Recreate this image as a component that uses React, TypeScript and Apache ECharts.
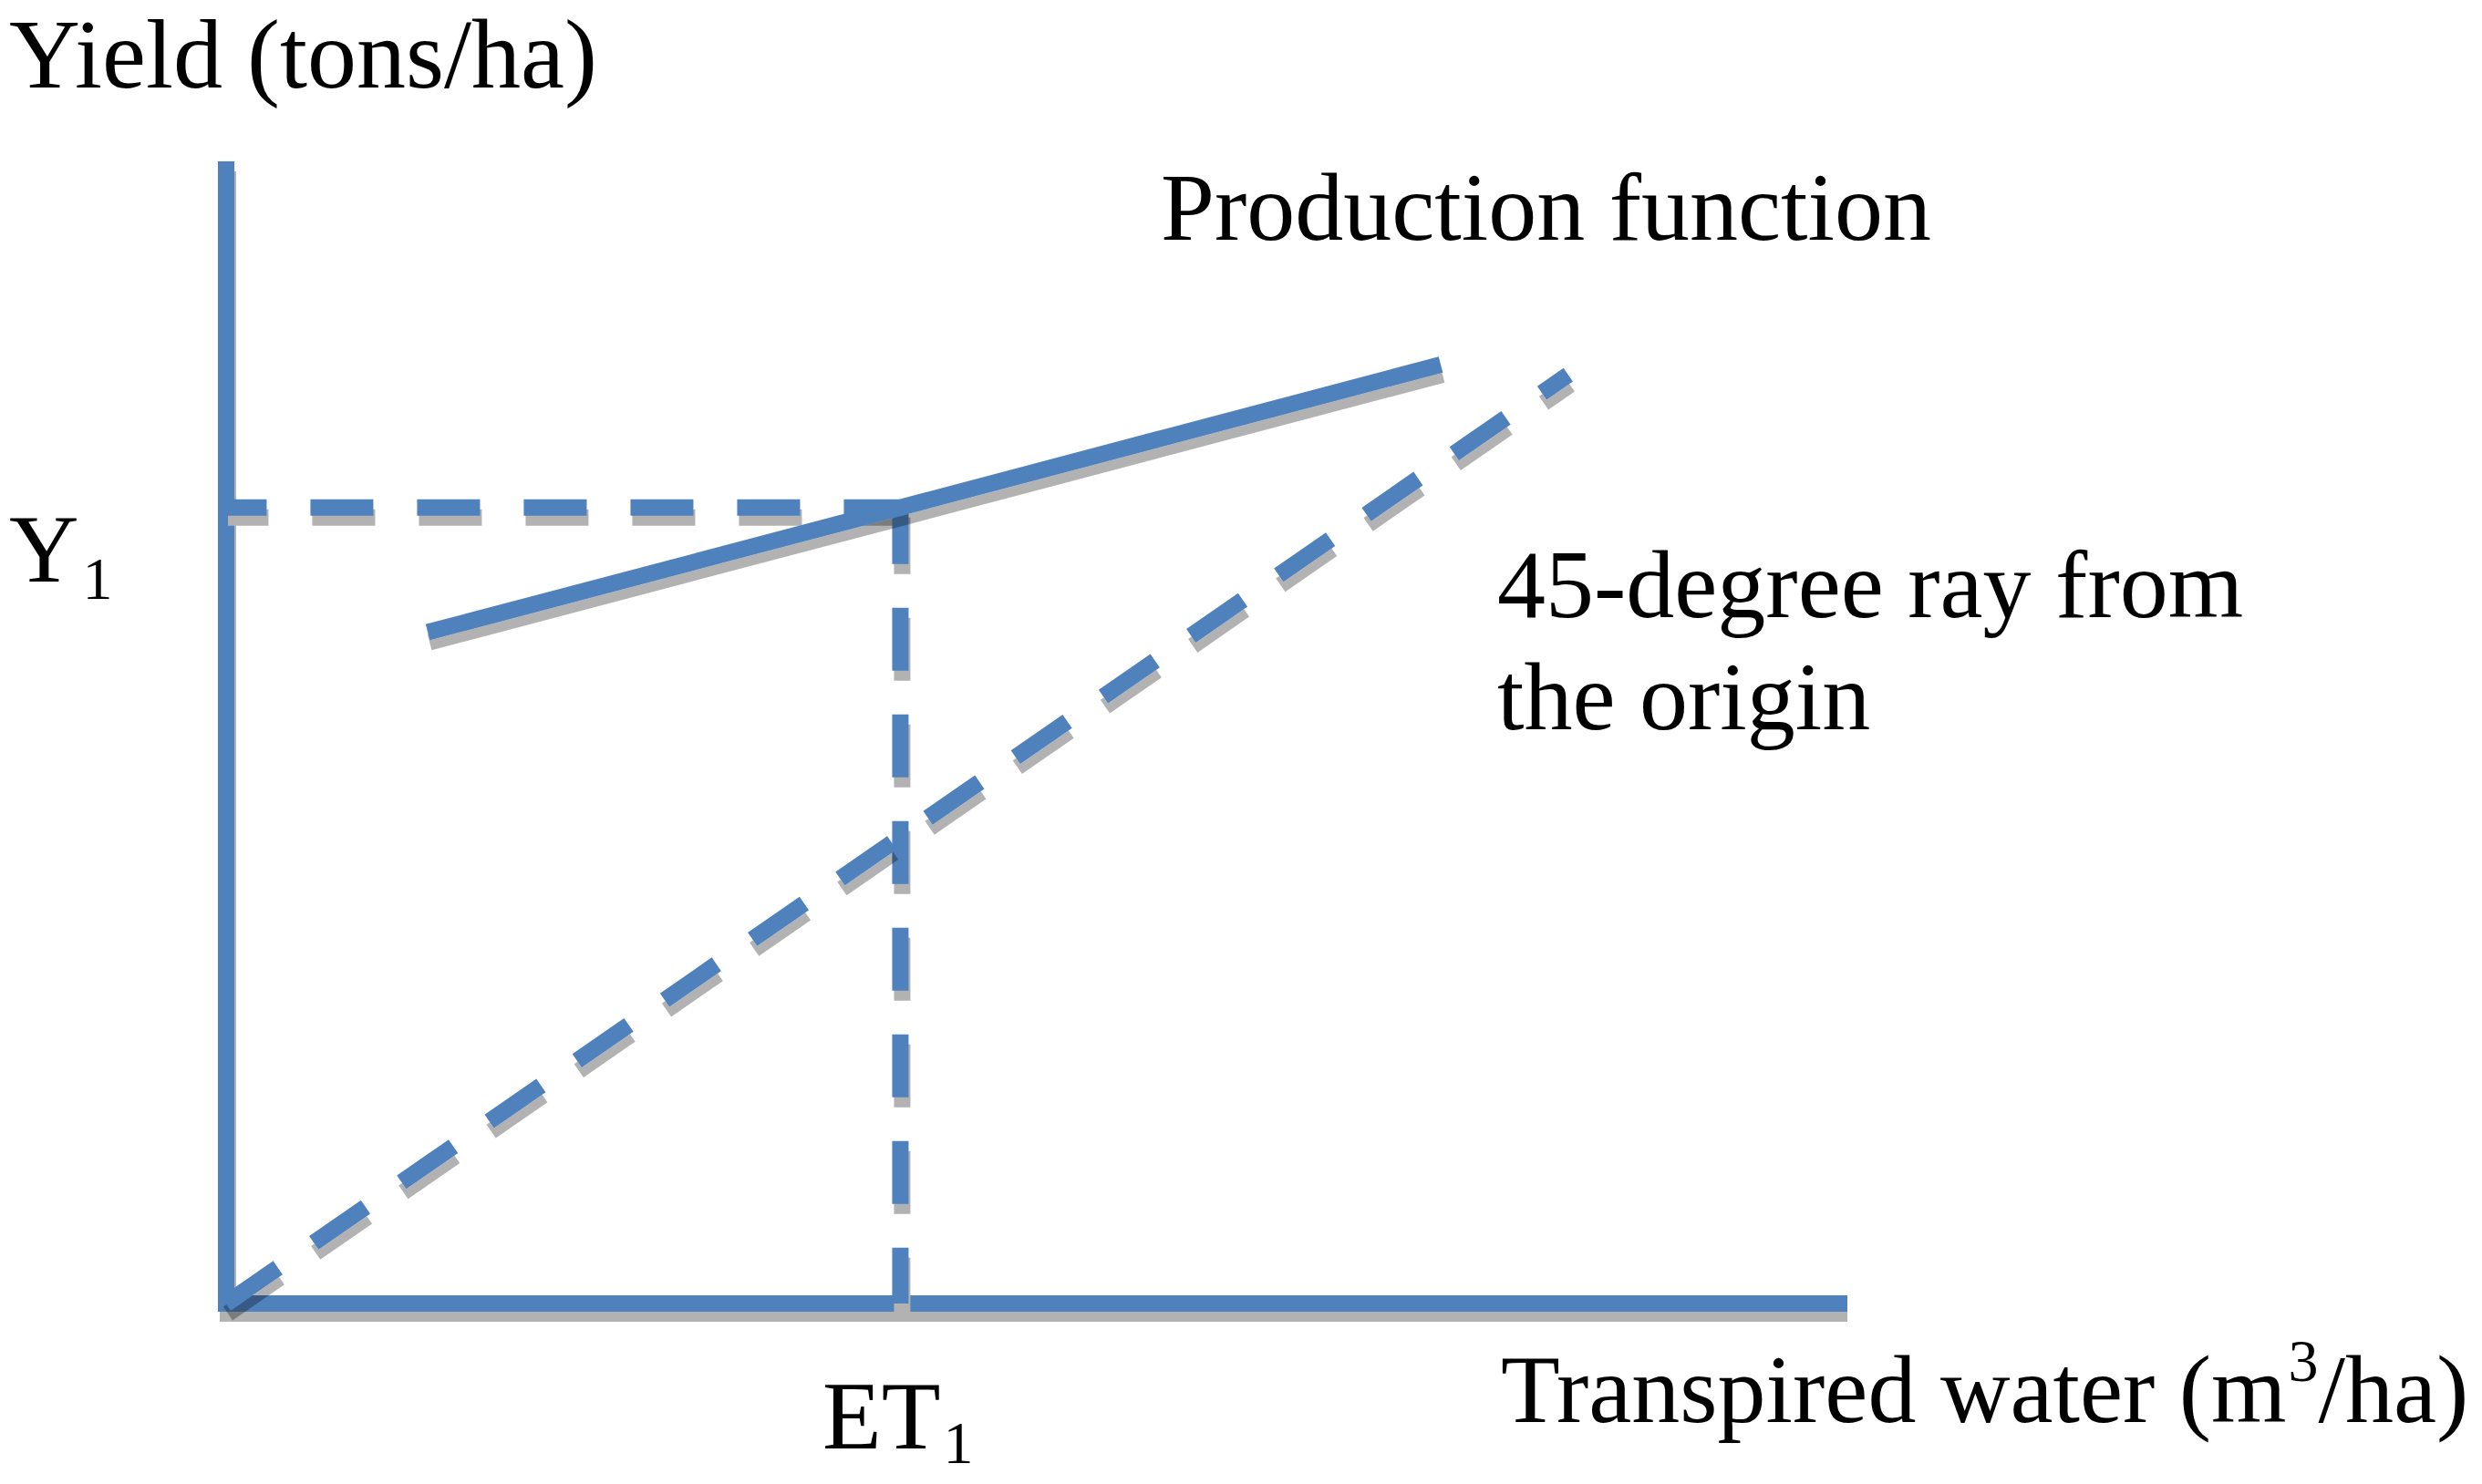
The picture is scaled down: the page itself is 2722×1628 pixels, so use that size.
import React, { useEffect, useRef } from "react";
import * as echarts from "echarts";

// ---- data ----
const axisMin = 0;
const axisMax = 10;
const productionX = [1.25, 4.18, 7.53];
const productionY = [5.92, 7.02, 8.28];
const rayX = [0, 8.32];
const rayY = [0, 8.19];
const ET1 = 4.18;
const Y1 = 7.02;

// ---- texts ----
const yAxisTitle = "Yield (tons/ha)";
const xAxisTitleMain = "Transpired water (m";
const xAxisTitleSup = "3";
const xAxisTitleEnd = "/ha)";
const productionLabel = "Production function";
const rayLabelLines = ["45-degree ray from", "the origin"];
const y1Main = "Y";
const et1Main = "ET";
const subText = "1";

// ---- layout / style ----
const W = 2722;
const H = 1628;
const GRID_L = 248;
const GRID_R = 705;
const GRID_T = 186;
const GRID_B = 198;
const BLUE = "#4F81BD";
const SHADOW_GRAY = "#b2b2b2";
const FONT = "'Liberation Serif', 'Times New Roman', serif";
const BIG = 106;
const SMALL = 66;
const LINE_W = 18;
const DASH = [69, 48];
const SH_PX_X = 2;
const SH_PX_Y = 11;

const shadow = {
  shadowColor: "rgba(0,0,0,0.30)",
  shadowBlur: 1,
  shadowOffsetX: SH_PX_X,
  shadowOffsetY: SH_PX_Y,
};

function measure(text: string, size: number): number {
  const c = document.createElement("canvas");
  const ctx = c.getContext("2d");
  if (!ctx) return text.length * size * 0.5;
  ctx.font = `${size}px "Liberation Serif"`;
  return ctx.measureText(text).width;
}

function txt(text: string, x: number, baseline: number, size: number) {
  return {
    type: "text",
    x,
    y: baseline - 0.335 * size,
    silent: true,
    style: {
      text,
      fontSize: size,
      fontFamily: FONT,
      lineHeight: size,
      fill: "#000",
      align: "left",
      verticalAlign: "middle",
      textAlign: "left",
      textVerticalAlign: "middle",
    },
  };
}

export default function App() {
  const ref = useRef<HTMLDivElement>(null);

  useEffect(() => {
    if (!ref.current) return;
    const chart = echarts.init(ref.current, undefined, { renderer: "svg" });

    const pairs = (xs: number[], ys: number[]) => xs.map((x, i) => [x, ys[i]]);

    // pixel -> data-unit conversion for the drop-shadow offset of straight lines
    const pxPerX = (W - GRID_L - GRID_R) / (axisMax - axisMin);
    const pxPerY = (H - GRID_T - GRID_B) / (axisMax - axisMin);
    const shift = (pts: number[][]) =>
      pts.map(([x, y]) => [x + SH_PX_X / pxPerX, y - SH_PX_Y / pxPerY]);

    const y1Line = [[ET1, Y1], [axisMin, Y1]];
    const et1Line = [[ET1, Y1], [ET1, axisMin]];
    const axesLine = [[axisMin, axisMax], [axisMin, axisMin], [axisMax, axisMin]];

    const xMainX = 1646;
    const wMain = measure(xAxisTitleMain, BIG);
    const wSup = measure(xAxisTitleSup, SMALL);
    const wET = measure(et1Main, BIG);
    const wY = measure(y1Main, BIG);

    const dashedPlain = (color: string) => ({
      color,
      width: LINE_W,
      type: DASH,
      dashOffset: 7,
      cap: "butt",
    });

    const base = { type: "line", symbol: "none", silent: true, clip: false };

    chart.setOption({
      animation: false,
      backgroundColor: "#ffffff",
      grid: { left: GRID_L, right: GRID_R, top: GRID_T, bottom: GRID_B, containLabel: false },
      xAxis: {
        type: "value",
        min: axisMin,
        max: axisMax,
        axisLine: { show: false },
        axisTick: { show: false },
        axisLabel: { show: false },
        splitLine: { show: false },
      },
      yAxis: {
        type: "value",
        min: axisMin,
        max: axisMax,
        axisLine: { show: false },
        axisTick: { show: false },
        axisLabel: { show: false },
        splitLine: { show: false },
      },
      series: [
        {
          ...base,
          name: "axes",
          data: axesLine,
          lineStyle: { color: BLUE, width: LINE_W, cap: "square", join: "miter", ...shadow },
        },
        { ...base, name: "Y1 shadow", data: shift(y1Line), lineStyle: dashedPlain(SHADOW_GRAY) },
        { ...base, name: "ET1 shadow", data: shift(et1Line), lineStyle: dashedPlain(SHADOW_GRAY) },
        { ...base, name: "Y1 level", data: y1Line, lineStyle: dashedPlain(BLUE) },
        { ...base, name: "ET1 level", data: et1Line, lineStyle: dashedPlain(BLUE) },
        {
          ...base,
          name: "45-degree ray",
          data: pairs(rayX, rayY),
          lineStyle: { color: BLUE, width: LINE_W, type: DASH, cap: "butt", ...shadow },
        },
        {
          ...base,
          name: "Production function",
          data: pairs(productionX, productionY),
          lineStyle: { color: BLUE, width: LINE_W, cap: "butt", ...shadow },
        },
      ],
      graphic: [
        txt(yAxisTitle, 10, 96, 108),
        txt(productionLabel, 1273, 263, BIG),
        txt(rayLabelLines[0], 1642, 677, BIG),
        txt(rayLabelLines[1], 1642, 800, BIG),
        txt(xAxisTitleMain, xMainX, 1560, BIG),
        txt(xAxisTitleSup, xMainX + wMain + 2, 1515, SMALL),
        txt(xAxisTitleEnd, xMainX + wMain + wSup + 2, 1560, BIG),
        txt(et1Main, 902, 1589, BIG),
        txt(subText, 902 + wET + 3, 1605, SMALL),
        txt(y1Main, 10, 638, BIG),
        txt(subText, 10 + wY + 4, 657, SMALL),
      ],
    });

    return () => chart.dispose();
  }, []);

  return (
    <div
      ref={ref}
      style={{ position: "fixed", left: 0, top: 0, width: W, height: H, background: "#fff" }}
    />
  );
}
